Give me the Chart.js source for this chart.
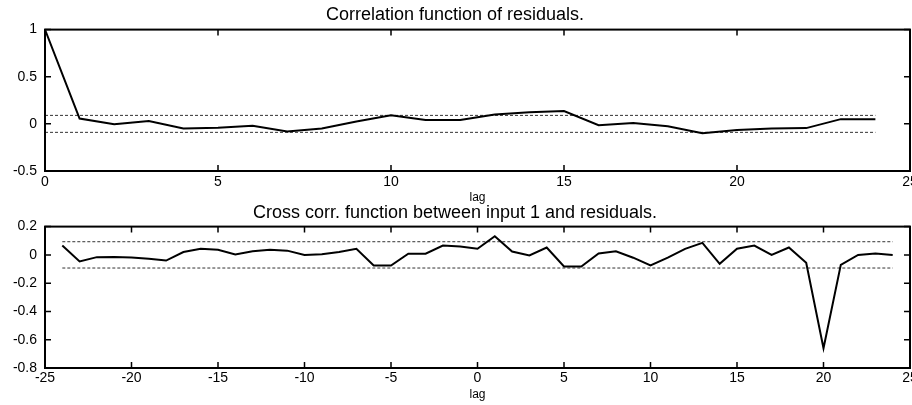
<!DOCTYPE html>
<html>
<head>
<meta charset="utf-8">
<script src="https://cdn.jsdelivr.net/npm/chart.js@4.4.1/dist/chart.umd.min.js"></script>
<style>
  html, body { margin: 0; padding: 0; background: #fff; overflow: hidden; width: 912px; height: 405px; }
  canvas { position: absolute; left: 0; }
  #acf { top: 0; }
  #ccf { top: 195px; }
</style>
</head>
<body>
<canvas id="acf" width="930" height="205"></canvas>
<canvas id="ccf" width="930" height="210"></canvas>
<script>
// autocorrelation of residuals, lag 0..24
const acfLags = [0, 1, 2, 3, 4, 5, 6, 7, 8, 9, 10, 11, 12, 13, 14, 15, 16, 17, 18, 19, 20, 21, 22, 23, 24];
const acfValues = [1, 0.057, -0.005, 0.03, -0.05, -0.04, -0.02, -0.08, -0.05, 0.025, 0.09, 0.04, 0.04, 0.1,
  0.123, 0.137, -0.014, 0.01, -0.025, -0.1, -0.065, -0.05, -0.045, 0.05, 0.05];
const acfBound = 0.09;

// cross correlation between input 1 and residuals, lag -24..24
const ccfLags = [-24, -23, -22, -21, -20, -19, -18, -17, -16, -15, -14, -13, -12, -11, -10, -9, -8, -7, -6, -5,
  -4, -3, -2, -1, 0, 1, 2, 3, 4, 5, 6, 7, 8, 9, 10, 11, 12, 13, 14, 15, 16, 17, 18, 19, 20, 21, 22, 23, 24];
const ccfValues = [0.066, -0.046, -0.016, -0.015, -0.018, -0.028, -0.04, 0.02, 0.043, 0.036, 0.003, 0.026, 0.036,
  0.03, 0, 0.005, 0.02, 0.043, -0.075, -0.075, 0.008, 0.008, 0.066, 0.06, 0.043, 0.132, 0.024, -0.004, 0.052,
  -0.082, -0.082, 0.01, 0.026, -0.02, -0.075, -0.02, 0.043, 0.085, -0.063, 0.043, 0.066, 0, 0.052, -0.056,
  -0.66, -0.07, 0, 0.01, 0];
const ccfBound = 0.093;

// tick labels
const acfXTicks = [0, 5, 10, 15, 20, 25];
const acfYTicks = [-0.5, 0, 0.5, 1];
const ccfXTicks = [-25, -20, -15, -10, -5, 0, 5, 10, 15, 20, 25];
const ccfYTicks = [-0.8, -0.6, -0.4, -0.2, 0, 0.2];

Chart.defaults.font.family = "'Liberation Sans', Arial, sans-serif";
Chart.defaults.color = '#000';

// box round the plot with ticks pointing inwards, on all four sides
const frame = {
  id: 'frame',
  afterDraw(chart) {
    const { ctx, chartArea: a, scales: { x, y } } = chart;
    ctx.save();
    ctx.strokeStyle = '#000';
    ctx.lineWidth = 1.5;
    ctx.beginPath();
    x.ticks.forEach(t => {
      const px = x.getPixelForValue(t.value);
      ctx.moveTo(px, a.bottom); ctx.lineTo(px, a.bottom - 6);
      ctx.moveTo(px, a.top); ctx.lineTo(px, a.top + 6);
    });
    y.ticks.forEach(t => {
      const py = y.getPixelForValue(t.value);
      ctx.moveTo(a.left, py); ctx.lineTo(a.left + 6, py);
      ctx.moveTo(a.right, py); ctx.lineTo(a.right - 6, py);
    });
    ctx.stroke();
    ctx.lineWidth = 2;
    ctx.strokeRect(a.left, a.top, a.width, a.height);
    ctx.restore();
  }
};

function points(xs, ys) {
  return xs.map((v, i) => ({ x: v, y: ys[i] }));
}

function bound(xs, b) {
  const first = xs[0], last = xs[xs.length - 1];
  return [{ x: first, y: b }, { x: last, y: b }];
}

function makeChart(id, o) {
  new Chart(document.getElementById(id), {
    type: 'line',
    data: {
      datasets: [
        { data: points(o.lags, o.values), borderColor: '#000', borderWidth: 2, pointRadius: 0, tension: 0 },
        { data: bound(o.lags, o.bound), borderColor: '#333', borderWidth: 1, borderDash: [3, 2], pointRadius: 0 },
        { data: bound(o.lags, -o.bound), borderColor: '#333', borderWidth: 1, borderDash: [3, 2], pointRadius: 0 }
      ]
    },
    options: {
      responsive: false,
      animation: false,
      events: [],
      layout: { padding: { left: 0, right: 20, top: 0, bottom: 0 } },
      plugins: {
        legend: { display: false },
        tooltip: { enabled: false },
        title: {
          display: true,
          text: o.title,
          font: { size: 18, weight: 'normal' },
          padding: o.titlePad
        }
      },
      scales: {
        x: {
          type: 'linear',
          min: o.xTicks[0],
          max: o.xTicks[o.xTicks.length - 1],
          afterBuildTicks: s => { s.ticks = o.xTicks.map(v => ({ value: v })); },
          afterFit: s => { s.height = o.xHeight; },
          grid: { display: false, drawTicks: false },
          border: { display: false },
          ticks: { font: { size: 14 }, padding: o.xTickPad, maxRotation: 0, autoSkip: false, callback: v => String(v) },
          title: { display: true, text: 'lag', font: { size: 12 }, padding: { top: 0, bottom: o.lagPad } }
        },
        y: {
          min: o.yTicks[0],
          max: o.yTicks[o.yTicks.length - 1],
          afterBuildTicks: s => { s.ticks = o.yTicks.map(v => ({ value: v })); },
          afterFit: s => { s.width = 45; },
          grid: { display: false, drawTicks: false },
          border: { display: false },
          ticks: { font: { size: 14 }, padding: 8, autoSkip: false, callback: v => String(v) }
        }
      }
    },
    plugins: [frame]
  });
}

makeChart('acf', {
  lags: acfLags, values: acfValues, bound: acfBound,
  xTicks: acfXTicks, yTicks: acfYTicks,
  title: 'Correlation function of residuals.',
  titlePad: { top: 4, bottom: 4 },
  xHeight: 34, xTickPad: 3, lagPad: 0
});

makeChart('ccf', {
  lags: ccfLags, values: ccfValues, bound: ccfBound,
  xTicks: ccfXTicks, yTicks: ccfYTicks,
  title: 'Cross corr. function between input 1 and residuals.',
  titlePad: { top: 7, bottom: 3 },
  xHeight: 37, xTickPad: 2, lagPad: 3
});
</script>
</body>
</html>
